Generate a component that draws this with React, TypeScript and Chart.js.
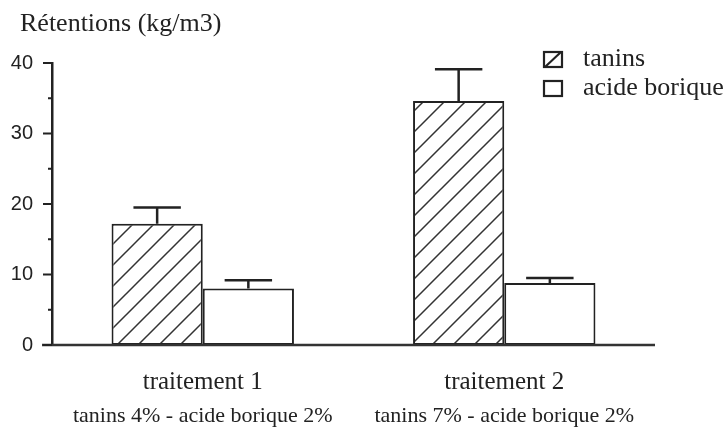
import React, { useEffect, useRef } from 'react';
import { Chart, registerables } from 'chart.js';

Chart.register(...registerables);

const categories = ['traitement 1', 'traitement 2'];
const subLabels = ['tanins 4% - acide borique 2%', 'tanins 7% - acide borique 2%'];
const seriesNames = ['tanins', 'acide borique'];
const taninsValues = [17.2, 34.6];
const taninsErrors = [2.3, 4.5];
const acideValues = [8.0, 8.8];
const acideErrors = [1.2, 0.7];
const yTickValues = [0, 10, 20, 30, 40];
const yMinorTicks = [5, 15, 25, 35];
const yTitle = 'Rétentions (kg/m3)';

const SERIF = '"Liberation Serif", "Times New Roman", serif';
const SANS = '"Liberation Sans", Arial, sans-serif';
const INK = '#222';

function makeHatch(ctx: CanvasRenderingContext2D) {
  const s = 21;
  const c = document.createElement('canvas');
  c.width = s;
  c.height = s;
  const g = c.getContext('2d')!;
  g.fillStyle = '#fff';
  g.fillRect(0, 0, s, s);
  g.strokeStyle = '#333';
  g.lineWidth = 1.5;
  g.beginPath();
  g.moveTo(-2, s + 2);
  g.lineTo(s + 2, -2);
  g.moveTo(-2, 2);
  g.lineTo(2, -2);
  g.moveTo(s - 2, s + 2);
  g.lineTo(s + 2, s - 2);
  g.stroke();
  return ctx.createPattern(c, 'repeat');
}

const decorPlugin = {
  id: 'decor',
  afterDatasetsDraw(chart: any) {
    const ctx: CanvasRenderingContext2D = chart.ctx;
    const x = chart.scales.x;
    const y = chart.scales.y;
    const area = chart.chartArea;
    ctx.save();

    // error bars
    chart.data.datasets.forEach((ds: any, di: number) => {
      const meta = chart.getDatasetMeta(di);
      meta.data.forEach((bar: any, i: number) => {
        const v = ds.data[i];
        const e = ds.errors[i];
        const top = y.getPixelForValue(v + e);
        const half = bar.width * 0.26;
        ctx.strokeStyle = INK;
        ctx.lineWidth = 2.5;
        ctx.beginPath();
        ctx.moveTo(bar.x, bar.y);
        ctx.lineTo(bar.x, top);
        ctx.moveTo(bar.x - half, top);
        ctx.lineTo(bar.x + half, top);
        ctx.stroke();
      });
    });

    // x axis line
    const y0 = y.getPixelForValue(0);
    ctx.strokeStyle = '#333';
    ctx.lineWidth = 2.5;
    ctx.beginPath();
    ctx.moveTo(area.left - 10, y0);
    ctx.lineTo(area.right, y0);
    ctx.stroke();

    // y ticks
    ctx.lineWidth = 2;
    ctx.strokeStyle = INK;
    ctx.beginPath();
    yTickValues.forEach((v) => {
      const py = y.getPixelForValue(v);
      ctx.moveTo(area.left - 9, py);
      ctx.lineTo(area.left, py);
    });
    yMinorTicks.forEach((v) => {
      const py = y.getPixelForValue(v);
      ctx.moveTo(area.left - 4, py);
      ctx.lineTo(area.left, py);
    });
    ctx.stroke();

    // category labels
    ctx.fillStyle = INK;
    ctx.textAlign = 'center';
    ctx.textBaseline = 'middle';
    categories.forEach((c, i) => {
      const px = x.getPixelForValue(i);
      ctx.font = `25px ${SERIF}`;
      ctx.fillText(c, px, 382);
      ctx.font = `22px ${SERIF}`;
      ctx.fillText(subLabels[i], px, 416);
    });

    // title
    ctx.textAlign = 'left';
    ctx.font = `26px ${SERIF}`;
    ctx.fillText(yTitle, 20, 24);

    // legend
    seriesNames.forEach((n, i) => {
      const by = 52 + i * 29;
      ctx.fillStyle = '#fff';
      ctx.fillRect(544, by, 18, 15);
      ctx.strokeStyle = INK;
      ctx.lineWidth = 2.2;
      ctx.strokeRect(544, by, 18, 15);
      if (i === 0) {
        ctx.beginPath();
        ctx.moveTo(545, by + 15);
        ctx.lineTo(561, by);
        ctx.stroke();
      }
      ctx.fillStyle = INK;
      ctx.font = `26px ${SERIF}`;
      ctx.fillText(n, 583, by + 7);
    });

    ctx.restore();
  },
};

export default function App() {
  const ref = useRef<HTMLCanvasElement | null>(null);
  useEffect(() => {
    const canvas = ref.current!;
    const ctx = canvas.getContext('2d')!;
    const hatch = makeHatch(ctx);
    const chart = new Chart(canvas, {
      type: 'bar',
      data: {
        labels: categories,
        datasets: [
          {
            label: seriesNames[0],
            data: taninsValues,
            errors: taninsErrors,
            backgroundColor: hatch as any,
            borderColor: INK,
            borderWidth: 2,
            borderSkipped: false,
            barPercentage: 1,
            categoryPercentage: 0.605,
          } as any,
          {
            label: seriesNames[1],
            data: acideValues,
            errors: acideErrors,
            backgroundColor: '#fff',
            borderColor: INK,
            borderWidth: 2,
            borderSkipped: false,
            barPercentage: 1,
            categoryPercentage: 0.605,
          } as any,
        ],
      },
      options: {
        responsive: false,
        animation: false,
        layout: { padding: { top: 63, right: 71, left: 0, bottom: 0 } },
        plugins: { legend: { display: false }, tooltip: { enabled: false } },
        scales: {
          x: {
            grid: { display: false },
            ticks: { display: false },
            border: { display: false },
            afterFit: (s: any) => {
              s.height = 83;
            },
          },
          y: {
            min: 0,
            max: 40,
            afterBuildTicks: (s: any) => {
              s.ticks = yTickValues.map((v) => ({ value: v }));
            },
            ticks: {
              color: INK,
              font: { family: SANS, size: 20 },
              padding: 19,
            },
            grid: { display: false, drawTicks: false },
            border: { display: true, color: INK, width: 2.5 },
            afterFit: (s: any) => {
              s.width = 52;
            },
          },
        },
      },
      plugins: [decorPlugin],
    });
    return () => chart.destroy();
  }, []);
  return (
    <div style={{ position: 'fixed', left: 0, top: 0, width: 726, height: 428, background: '#fff' }}>
      <canvas ref={ref} width={726} height={428} />
    </div>
  );
}
